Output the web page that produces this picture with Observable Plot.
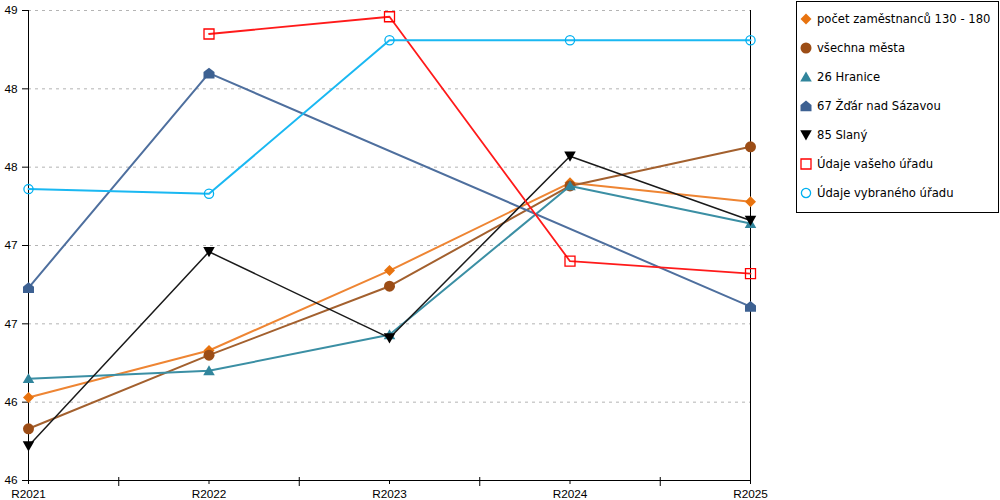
<!DOCTYPE html>
<html>
<head>
<meta charset="utf-8">
<script src="https://cdn.jsdelivr.net/npm/d3@7"></script>
<script src="https://cdn.jsdelivr.net/npm/@observablehq/plot@0.6"></script>
<style>
  body { margin: 0; background: #fff; }
  #wrap { position: relative; width: 1000px; height: 500px; overflow: hidden; }
  #chart { position: absolute; left: 0; top: 0; }
  #legend { position: absolute; left: 796px; top: 1px; width: 201px; height: 210px; border: 1px solid #000;
            font-family: "DejaVu Sans", Verdana, sans-serif; font-size: 11.6px; color: #000; background: #fff; }
  .item { position: absolute; left: 0; height: 16px; display: flex; align-items: center; white-space: nowrap; }
  .item svg { margin-left: 1px; margin-right: 3px; }
</style>
</head>
<body>
<div id="wrap">
  <div id="chart"></div>
  <div id="legend"></div>
</div>
<script>
// ---- data ----
const years = ["R2021", "R2022", "R2023", "R2024", "R2025"];
const seriesNames = [
  "počet zaměstnanců 130 - 180",
  "všechna města",
  "26 Hranice",
  "67 Žďár nad Sázavou",
  "85 Slaný",
  "Údaje vašeho úřadu",
  "Údaje vybraného úřadu"
];
const pocet     = [46.53, 46.83, 47.34, 47.90, 47.78];
const vsechna   = [46.33, 46.80, 47.24, 47.88, 48.13];
const hranice   = [46.65, 46.70, 46.93, 47.88, 47.64];
const zdar      = [47.23, 48.60, null, null, 47.11];
const slany     = [46.22, 47.46, 46.91, 48.07, 47.66];
const vaseho    = [null, 48.85, 48.96, 47.40, 47.32];
const vybraneho = [47.86, 47.83, 48.81, 48.81, 48.81];
const yTicks = [46, 46.5, 47, 47.5, 48, 48.5, 49];

const seriesValues = [pocet, vsechna, hranice, zdar, slany, vaseho, vybraneho];

// ---- styles ----
const colors = ["#E8730F", "#9C4D16", "#31859C", "#3D6192", "#000000", "#FF0000", "#00B0F0"];
const lineColors = ["#EE8533", "#A3602E", "#3B8FA4", "#4E6F9E", "#1a1a1a", "#FF1a1a", "#1ab8f2"];
const lineWidths = [2, 2, 2, 2, 1.5, 1.8, 2];

const poly = pts => ({
  draw(ctx, size) {
    const r = Math.sqrt(size / Math.PI);
    pts.forEach(([px, py], i) => i ? ctx.lineTo(px * r, py * r) : ctx.moveTo(px * r, py * r));
    ctx.closePath();
  }
});
const symDiamond = poly([[0, -1], [1, 0], [0, 1], [-1, 0]]);
const symTri = poly([[0, -1], [1.05, 0.8], [-1.05, 0.8]]);
const symHouse = poly([[0, -1], [1, -0.2], [1, 0.95], [-1, 0.95], [-1, -0.2]]);
const symTriDown = poly([[-1.05, -0.85], [1.05, -0.85], [0, 1]]);
const symSquare = poly([[-1, -1], [1, -1], [1, 1], [-1, 1]]);
const symCircle = d3.symbolCircle;

const markers = [
  {symbol: symDiamond, r: 5.5, fill: colors[0], stroke: "none", sw: 0},
  {symbol: symCircle, r: 5.5, fill: colors[1], stroke: "none", sw: 0},
  {symbol: symTri, r: 5.5, fill: colors[2], stroke: "none", sw: 0},
  {symbol: symHouse, r: 5.5, fill: colors[3], stroke: "none", sw: 0},
  {symbol: symTriDown, r: 5.5, fill: colors[4], stroke: "none", sw: 0},
  {symbol: symSquare, r: 5, fill: "none", stroke: colors[5], sw: 1.3},
  {symbol: symCircle, r: 4.6, fill: "none", stroke: colors[6], sw: 1.3}
];

const data = seriesNames.flatMap((name, s) =>
  seriesValues[s].map((v, i) => ({series: name, s, x: i, y: v})).filter(d => d.y != null)
);

const seriesMarks = seriesNames.flatMap((name, s) => {
  const d = data.filter(e => e.s === s);
  const m = markers[s];
  return [
    Plot.line(d, {x: "x", y: "y", stroke: lineColors[s], strokeWidth: lineWidths[s]}),
    Plot.dot(d, {x: "x", y: "y", symbol: m.symbol, r: m.r, fill: m.fill, stroke: m.stroke, strokeWidth: m.sw})
  ];
});

const xTicks = years.map((_, i) => i);
const midTicks = years.slice(1).map((_, i) => i + 0.5);

const chart = Plot.plot({
  width: 790,
  height: 500,
  marginLeft: 28,
  marginRight: 40,
  marginTop: 10,
  marginBottom: 20,
  x: {domain: [0, years.length - 1], label: null},
  y: {domain: [46, 49], label: null},
  style: {fontFamily: "'Liberation Sans', Arial, sans-serif", fontSize: "11.8px", color: "#000", background: "#fff"},
  marks: [
    Plot.gridY(yTicks, {stroke: "#b4b4b4", strokeOpacity: 1, strokeDasharray: "3,4"}),
    Plot.ruleY([46], {stroke: "#000"}),
    Plot.ruleX([0, years.length - 1], {stroke: "#000"}),
    Plot.axisY(yTicks, {tickSize: 6, tickPadding: 5, tickFormat: d => String(Math.floor(d)), stroke: "#000", fill: "#000"}),
    Plot.axisX(xTicks, {tickSize: 4, tickPadding: 5, tickFormat: i => years[i], stroke: "#000", fill: "#000"}),
    Plot.axisX(midTicks, {tickSize: 9, dy: -3, tickFormat: () => "", stroke: "#000"}),
    ...seriesMarks
  ]
});
document.getElementById("chart").appendChild(chart);

// ---- legend ----
const legend = document.getElementById("legend");
seriesNames.forEach((name, s) => {
  const m = markers[s];
  const item = document.createElement("div");
  item.className = "item";
  item.style.top = (9 + s * 29) + "px";
  const path = d3.symbol(m.symbol, m.r * m.r * Math.PI)();
  item.innerHTML = `<svg width="16" height="16" viewBox="-8 -8 16 16"><path d="${path}" fill="${m.fill}" stroke="${m.stroke}" stroke-width="${m.sw}"/></svg><span>${name}</span>`;
  legend.appendChild(item);
});
</script>
</body>
</html>
